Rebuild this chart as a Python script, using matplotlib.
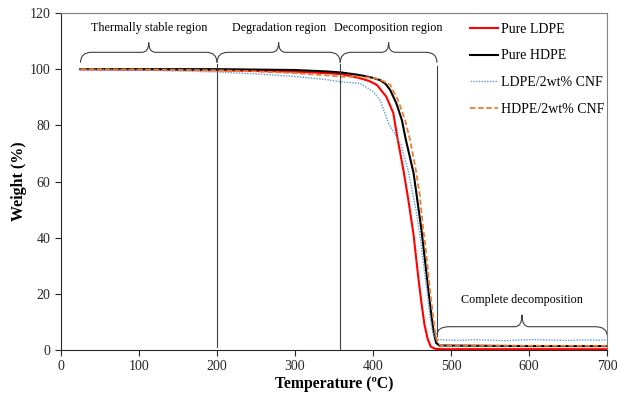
import numpy as np
import matplotlib
matplotlib.use('Agg')
import matplotlib.pyplot as plt
from matplotlib.path import Path
from matplotlib.patches import PathPatch

plt.rcParams['font.family'] = ['Liberation Serif', 'DejaVu Serif']

# TGA curves (temperature in C, weight in %)
t_ldpe = [25, 100, 200, 300, 340, 360, 383, 395, 405, 417, 426, 431, 435, 439, 445, 452, 458, 462, 466, 470, 474, 480, 490, 600, 700]
w_ldpe = [100, 99.9, 99.6, 99.1, 98.6, 98.2, 96.8, 95.8, 94.4, 90.2, 84.4, 76, 70, 64, 54, 41, 26, 17, 9, 4, 1.2, 0.4, 0.3, 0.3, 0.3]

t_hdpe = [25, 100, 200, 300, 340, 360, 383, 400, 409, 416, 422, 430, 437, 442, 447, 452, 457, 462, 467, 471, 475, 478, 481, 485, 600, 700]
w_hdpe = [100, 100, 100, 99.7, 99.2, 98.8, 97.9, 96.9, 96.1, 94.8, 92.6, 87.8, 81.9, 75, 69, 63, 53, 43, 31, 21.4, 12, 6, 2.5, 1.6, 1.4, 1.4]

t_ldpe_cnf = [25, 100, 200, 250, 300, 340, 358, 383, 392, 400, 409, 415, 421, 426, 431, 436, 440, 445, 450, 455, 460, 465, 469, 473, 476, 479, 482,
              490, 510, 530, 550, 570, 590, 610, 630, 650, 670, 690, 700]
w_ldpe_cnf = [100, 99.7, 99.0, 98.3, 97.4, 96.3, 95.5, 95, 93.5, 92, 89, 84.5, 80, 78, 75.5, 73, 69, 64, 57, 50, 41, 30, 21.4, 12, 7, 4.5, 3.8,
              3.6, 3.4, 3.7, 3.5, 3.3, 3.6, 3.7, 3.5, 3.4, 3.6, 3.5, 3.6]

t_hdpe_cnf = [25, 100, 200, 250, 300, 340, 360, 383, 403, 413, 422, 432, 441, 447.5, 455, 460, 464, 468, 473, 477, 480, 483, 487, 600, 700]
w_hdpe_cnf = [100, 99.9, 99.6, 99.2, 98.6, 97.8, 97.3, 97.3, 96.8, 95.8, 94.4, 89, 82, 74.8, 64, 55, 44, 35, 21.4, 12, 6, 2.5, 1.6, 1.5, 1.5]

regions = ['Thermally stable region', 'Degradation region', 'Decomposition region']
region_edges = [25, 200, 358, 482]


def brace(ax, x0, x1, y0, y1, y2, rx_end, rx_tip):
    xm = (x0 + x1) / 2
    verts = [(x0, y0), (x0, y1), (x0 + rx_end, y1),
             (xm - rx_tip, y1), (xm, y1), (xm, y2),
             (xm, y1), (xm + rx_tip, y1),
             (x1 - rx_end, y1), (x1, y1), (x1, y0)]
    codes = [Path.MOVETO, Path.CURVE3, Path.CURVE3,
             Path.LINETO, Path.CURVE3, Path.CURVE3,
             Path.CURVE3, Path.CURVE3,
             Path.LINETO, Path.CURVE3, Path.CURVE3]
    ax.add_patch(PathPatch(Path(verts, codes), fill=False, ec='#404040', lw=0.8))


fig = plt.figure(figsize=(6.17, 3.99), dpi=100)
ax = fig.add_axes([0.0989, 0.1228, 0.8849, 0.8446])

ax.plot(t_ldpe, w_ldpe, color='#FF0000', lw=1.5, label='Pure LDPE')
ax.plot(t_hdpe, w_hdpe, color='black', lw=1.5, label='Pure HDPE')
ax.plot(t_ldpe_cnf, w_ldpe_cnf, color='#5B9BD5', lw=1.0, ls=(0, (1, 1)), label='LDPE/2wt% CNF')
ax.plot(t_hdpe_cnf, w_hdpe_cnf, color='#ED7D31', lw=1.3, ls=(0, (3, 1.5)), label='HDPE/2wt% CNF')

# region separators
ax.plot([200, 200], [1, 102], color='#404040', lw=0.8)
ax.plot([358, 358], [0, 102], color='#404040', lw=0.8)
ax.plot([482, 482], [5, 101], color='#404040', lw=0.8)

for i, name in enumerate(regions):
    a, b = region_edges[i], region_edges[i + 1]
    brace(ax, a, b, 102.3, 106, 109.5, 14, 9)
    ax.text((a + b) / 2, 114.6, name, ha='center', va='center', fontsize=8.7)

brace(ax, 482, 700, 5.3, 8.3, 12.5, 16, 9)
ax.text(591, 17.8, 'Complete decomposition', ha='center', va='center', fontsize=8.7)

ax.set_xlim(0, 700)
ax.set_ylim(0, 120)
ax.set_xticks(np.arange(0, 701, 100))
ax.set_yticks(np.arange(0, 121, 20))
ax.tick_params(labelsize=10, length=4, width=0.8, colors='#262626')
for s in ['left', 'bottom']:
    ax.spines[s].set_color('#262626')
    ax.spines[s].set_linewidth(0.8)
for s in ['top', 'right']:
    ax.spines[s].set_color('#808080')
    ax.spines[s].set_linewidth(0.8)

ax.set_xlabel('Temperature (ºC)', fontsize=11.3, fontweight='bold', labelpad=2)
ax.set_ylabel('Weight (%)', fontsize=11.5, fontweight='bold', labelpad=2)

ax.legend(loc='upper left', bbox_to_anchor=(0.727, 1.008), frameon=False,
          fontsize=10, labelspacing=0.98, handlelength=2.0, handletextpad=0.2)

fig.savefig('out.png', dpi=100)
